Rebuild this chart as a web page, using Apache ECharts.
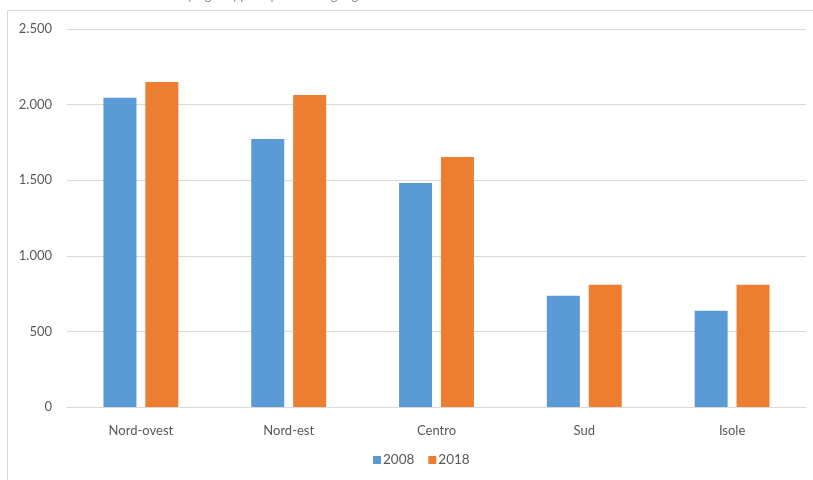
<!DOCTYPE html>
<html><head><meta charset="utf-8">
<script src="https://cdn.jsdelivr.net/npm/echarts@6/dist/echarts.min.js"></script>
<style>html,body{margin:0;padding:0;background:#fff}#c{width:813px;height:480px}</style>
</head><body><div id="c"></div>
<script>
const categories = ['Nord-ovest', 'Nord-est', 'Centro', 'Sud', 'Isole'];
const seriesNames = ['2008', '2018'];
const values2008 = [2045, 1772, 1482, 735, 636];
const values2018 = [2150, 2063, 1653, 808, 808];
const yTicks = ['0', '500', '1.000', '1.500', '2.000', '2.500'];

const chart = echarts.init(document.getElementById('c'), null, {renderer: 'canvas'});
const font = 'Lato, "Open Sans", sans-serif';
chart.setOption({
  animation: false,
  backgroundColor: '#fff',
  graphic: [
    {type: 'rect', shape: {x: 7.5, y: 10.5, width: 820, height: 480}, style: {fill: 'none', stroke: '#d9d9d9', lineWidth: 1}},
    {type: 'text', left: 140, top: -11, style: {text: 'Reddito (migliaia) per ripartizione geografica', font: '13px ' + font, fill: '#8c8c8c'}, z: -1}
  ],
  grid: {left: 67, right: 7, top: 29, bottom: 73},
  legend: {
    bottom: 8, left: 368, itemWidth: 8, itemHeight: 8, itemGap: 14,
    icon: 'rect',
    textStyle: {fontFamily: font, fontSize: 13.5, color: '#595959', padding: [0, 0, 0, -3]},
    data: seriesNames
  },
  xAxis: {
    type: 'category', data: categories,
    axisLine: {lineStyle: {color: '#d9d9d9', width: 1}},
    axisTick: {show: false},
    axisLabel: {fontFamily: font, fontSize: 13, color: '#595959', margin: 17}
  },
  yAxis: {
    type: 'value', min: 0, max: 2500, interval: 500,
    axisLine: {show: false}, axisTick: {show: false},
    splitLine: {lineStyle: {color: '#d9d9d9', width: 1}},
    axisLabel: {fontFamily: font, fontSize: 13, color: '#595959', margin: 15,
      formatter: v => yTicks[Math.round(v / 500)]}
  },
  series: [
    {name: seriesNames[0], type: 'bar', data: values2008, barWidth: 33, barGap: '27%', itemStyle: {color: '#5b9bd5'}},
    {name: seriesNames[1], type: 'bar', data: values2018, barWidth: 33, barGap: '27%', itemStyle: {color: '#ed7d31'}}
  ]
});
</script></body></html>
